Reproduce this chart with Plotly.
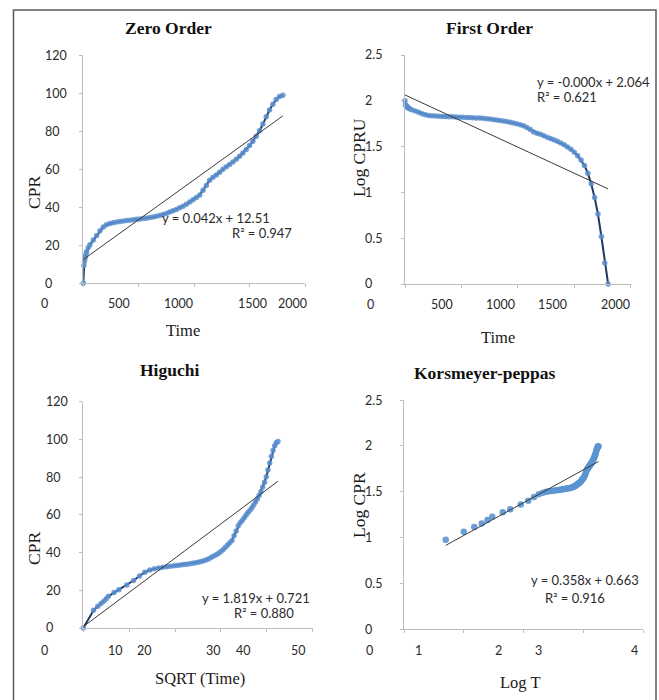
import numpy as np
import plotly.graph_objects as go

# ---- release data: sampling time (min) and cumulative percent released ----
time_min = [0, 5, 10, 15, 20, 25, 30, 45, 60,
            90, 120, 150, 180, 210, 240, 270, 300, 330, 360,
            390, 420, 450, 480, 510, 540, 570, 600, 630, 660,
            690, 720, 750, 780, 810, 840, 870, 900, 930, 960,
            990, 1020, 1050, 1080, 1110, 1140, 1170, 1200, 1230, 1260,
            1290, 1320, 1350, 1380, 1410, 1440, 1470, 1500, 1530, 1560,
            1590, 1620, 1650, 1680, 1710, 1740, 1770, 1800]
cpr = [0, 9.4, 11.5, 13.0, 14.2, 15.5, 16.8, 18.8, 20.3,
       22.8, 25.2, 27.6, 29.6, 30.8, 31.5, 31.9, 32.2, 32.5, 32.8,
       33.0, 33.2, 33.5, 33.7, 33.9, 34.1, 34.3, 34.6, 34.9, 35.3,
       35.7, 36.2, 36.8, 37.5, 38.2, 38.9, 39.7, 40.6, 41.6, 42.8,
       44.0, 45.2, 46.5, 49.0, 51.5, 54.3, 55.8, 57.0, 58.5, 60.0,
       61.3, 62.5, 63.8, 65.3, 66.9, 68.6, 70.4, 72.5, 74.8, 77.4,
       80.3, 83.8, 87.6, 91.2, 94.2, 96.7, 98.3, 99.0]

# ---- fitted models (slope, intercept) as reported on each panel ----
zero_fit = (0.042, 12.51)
first_fit = (-0.00057, 2.064)
higuchi_fit = (1.819, 0.721)
kp_fit = (0.358, 0.663)

zero_eq = ["y = 0.042x + 12.51", "R\u00b2 = 0.947"]
first_eq = ["y = -0.000x + 2.064", "R\u00b2 = 0.621"]
higuchi_eq = ["y = 1.819x + 0.721", "R\u00b2 = 0.880"]
kp_eq = ["y = 0.358x + 0.663", "R\u00b2 = 0.916"]

# ---- axis ticks and labels ----
time_ticks = [0, 500, 1000, 1500, 2000]
time_labels = ["0", "500", "1000", "1500", "2000"]
cpr_ticks = [0, 20, 40, 60, 80, 100, 120]
cpr_labels = ["0", "20", "40", "60", "80", "100", "120"]
log_ticks = [0, 0.5, 1, 1.5, 2, 2.5]
log_labels = ["0", "0.5", "1", "1.5", "2", "2.5"]
sqrt_ticks = [0, 10, 20, 30, 40, 50]
sqrt_labels = ["0", "10", "20", "30", "40", "50"]
logt_ticks = [0, 1, 2, 3, 4]
logt_labels = ["0", "1", "2", "3", "4"]

# where the category labels sit along each x axis (axis units)
zero_xlabel_at = [-354, 320, 857, 1524, 1885]
first_xlabel_at = [-308, 325, 848, 1306, 1868]
higuchi_xlabel_at = [-8.5, 7.1, 13.4, 28.4, 34.9, 46.8]
kp_xlabel_at = [-0.57, 0.25, 1.58, 2.25, 3.85]

# ---- derived quantities for each kinetic model ----
t = np.array(time_min, dtype=float)
c = np.array(cpr, dtype=float)
sqrt_t = np.sqrt(t)
log_cpru = np.log10(100.0 - c)
pos = t > 0
log_t = np.log10(t[pos])
log_c = np.log10(c[pos])

W, H = 659, 700
SERIF = "Liberation Serif, Times New Roman, serif"
SANS = "Lato, Carlito, Calibri, sans-serif"
AXIS_GREY = "#bdbdbd"
TEXT_GREY = "#2a2a2a"


def fx(p):
    return p / W


def fy(p):
    return 1 - p / H


panels = [
    dict(x="x", y="y", xdom=(83.3, 305.0), ydom=(283.3, 55.3),
         xr=[0, 2000], yr=[0, 120], xt=time_ticks, yt=cpr_ticks,
         xl=time_labels, xl_at=zero_xlabel_at, yl=cpr_labels,
         xdata=t, ydata=c, fit=zero_fit, fit_x=[0, 1800], mode="lines+markers",
         title="Zero Order", title_xy=(168, 28),
         xtitle="Time", xtitle_xy=(183, 330),
         ytitle="CPR", ytitle_xy=(34, 193),
         eq=zero_eq, eq_xy=[(216, 218), (262, 233)], eq_anchor="center",
         xlab_shift=20.5, ylab_shift=-40),
    dict(x="x2", y="y2", xdom=(405.0, 630.7), ydom=(284.0, 55.0),
         xr=[0, 2000], yr=[0, 2.5], xt=time_ticks, yt=log_ticks,
         xl=time_labels, xl_at=first_xlabel_at, yl=log_labels,
         xdata=t, ydata=log_cpru, fit=first_fit, fit_x=[0, 1800], mode="lines+markers",
         title="First Order", title_xy=(490, 28),
         xtitle="Time", xtitle_xy=(498, 337),
         ytitle="Log CPRU", ytitle_xy=(359, 157),
         eq=first_eq, eq_xy=[(535, 82), (535, 97)], eq_anchor="left",
         xlab_shift=20, ylab_shift=-42),
    dict(x="x3", y="y3", xdom=(83.3, 312.7), ydom=(628.0, 401.9),
         xr=[0, 50], yr=[0, 120], xt=sqrt_ticks, yt=cpr_ticks,
         xl=sqrt_labels, xl_at=higuchi_xlabel_at, yl=cpr_labels,
         xdata=sqrt_t, ydata=c, fit=higuchi_fit, fit_x=[0, float(sqrt_t[-1])],
         mode="lines+markers",
         title="Higuchi", title_xy=(169, 370),
         xtitle="SQRT (Time)", xtitle_xy=(200, 678),
         ytitle="CPR", ytitle_xy=(34, 549),
         eq=higuchi_eq, eq_xy=[(256, 598), (264, 613)], eq_anchor="center",
         xlab_shift=22, ylab_shift=-39.5),
    dict(x="x4", y="y4", xdom=(404.0, 643.0), ydom=(629.0, 400.0),
         xr=[0, 4], yr=[0, 2.5], xt=logt_ticks, yt=log_ticks,
         xl=logt_labels, xl_at=kp_xlabel_at, yl=log_labels,
         xdata=log_t, ydata=log_c, fit=kp_fit,
         fit_x=[float(log_t[0]), float(log_t[-1])], mode="markers",
         title="Korsmeyer-peppas", title_xy=(484, 373),
         xtitle="Log T", xtitle_xy=(520, 682),
         ytitle="Log CPR", ytitle_xy=(359, 505),
         eq=kp_eq, eq_xy=[(585, 580), (575, 598)], eq_anchor="center",
         xlab_shift=21, ylab_shift=-41),
]

fig = go.Figure()
annotations = []
layout_axes = {}
tick_font = dict(family=SANS, size=12.5, color=TEXT_GREY)
eq_font = dict(family=SANS, size=13, color=TEXT_GREY)

for i, p in enumerate(panels):
    n = "" if i == 0 else str(i + 1)
    # measured data
    if p["mode"] == "markers":
        fig.add_trace(go.Scatter(
            x=p["xdata"], y=p["ydata"], xaxis=p["x"], yaxis=p["y"],
            mode="markers", cliponaxis=False, showlegend=False,
            marker=dict(color="#5a93d0", size=6.5, opacity=0.9)))
    else:
        fig.add_trace(go.Scatter(
            x=p["xdata"], y=p["ydata"], xaxis=p["x"], yaxis=p["y"],
            mode="lines+markers", cliponaxis=False, showlegend=False,
            line=dict(color="#1f3762", width=2),
            marker=dict(color="#5a8fcf", size=5.5, opacity=0.85)))
    # linear trend line from the reported equation
    m, b = p["fit"]
    fx_vals = np.array(p["fit_x"], dtype=float)
    fig.add_trace(go.Scatter(
        x=fx_vals, y=m * fx_vals + b, xaxis=p["x"], yaxis=p["y"],
        mode="lines", cliponaxis=False, showlegend=False,
        line=dict(color="#3a3a3a", width=1)))

    layout_axes["xaxis" + n] = dict(
        domain=[fx(p["xdom"][0]), fx(p["xdom"][1])], anchor=p["y"],
        range=p["xr"], tickmode="array", tickvals=p["xt"],
        showticklabels=False, ticks="outside", ticklen=3, tickwidth=1,
        tickcolor=AXIS_GREY, showline=True, linecolor=AXIS_GREY, linewidth=1,
        showgrid=False, zeroline=False, fixedrange=True)
    layout_axes["yaxis" + n] = dict(
        domain=[fy(p["ydom"][0]), fy(p["ydom"][1])], anchor=p["x"],
        range=p["yr"], tickmode="array", tickvals=p["yt"],
        showticklabels=False, ticks="outside", ticklen=3, tickwidth=1,
        tickcolor=AXIS_GREY, showline=True, linecolor=AXIS_GREY, linewidth=1,
        showgrid=False, zeroline=False, fixedrange=True)

    # x tick labels, placed along the axis scale (may fall left of the plot area)
    x0, x1 = p["xdom"]
    r0, r1 = p["xr"]
    for lab, at in zip(p["xl"], p["xl_at"]):
        px = x0 + (at - r0) / (r1 - r0) * (x1 - x0)
        annotations.append(dict(
            text=lab, x=fx(px), y=fy(p["ydom"][0] + p["xlab_shift"]),
            xref="paper", yref="paper", xanchor="center", yanchor="middle",
            showarrow=False, font=tick_font))
    # y tick labels
    for lab, val in zip(p["yl"], p["yt"]):
        annotations.append(dict(
            text=lab, x=p["xr"][0], y=val, xref=p["x"], yref=p["y"],
            xanchor="left", yanchor="middle", xshift=p["ylab_shift"],
            showarrow=False, font=tick_font))
    # panel title
    annotations.append(dict(
        text="<b>%s</b>" % p["title"], x=fx(p["title_xy"][0]), y=fy(p["title_xy"][1]),
        xref="paper", yref="paper", xanchor="center", yanchor="middle",
        showarrow=False, font=dict(family=SERIF, size=17.5, color="#111111")))
    # axis titles
    annotations.append(dict(
        text=p["xtitle"], x=fx(p["xtitle_xy"][0]), y=fy(p["xtitle_xy"][1]),
        xref="paper", yref="paper", xanchor="center", yanchor="middle",
        showarrow=False, font=dict(family=SERIF, size=16.5, color="#1a1a1a")))
    annotations.append(dict(
        text=p["ytitle"], x=fx(p["ytitle_xy"][0]), y=fy(p["ytitle_xy"][1]),
        xref="paper", yref="paper", xanchor="center", yanchor="middle",
        textangle=-90, showarrow=False,
        font=dict(family=SERIF, size=17.5, color="#1a1a1a")))
    # fitted equation and R squared
    for txt, (ex, ey) in zip(p["eq"], p["eq_xy"]):
        annotations.append(dict(
            text=txt, x=fx(ex), y=fy(ey), xref="paper", yref="paper",
            xanchor=p["eq_anchor"], yanchor="middle", showarrow=False,
            font=eq_font))

fig.update_layout(
    width=W, height=H,
    margin=dict(l=0, r=0, t=0, b=0),
    paper_bgcolor="white", plot_bgcolor="white",
    annotations=annotations,
    shapes=[dict(type="rect", xref="paper", yref="paper",
                 x0=fx(13.5), x1=fx(656), y0=fy(712), y1=fy(10),
                 line=dict(color="#5a5a5a", width=1.5))],
    **layout_axes,
)

fig.write_html("out.html")
